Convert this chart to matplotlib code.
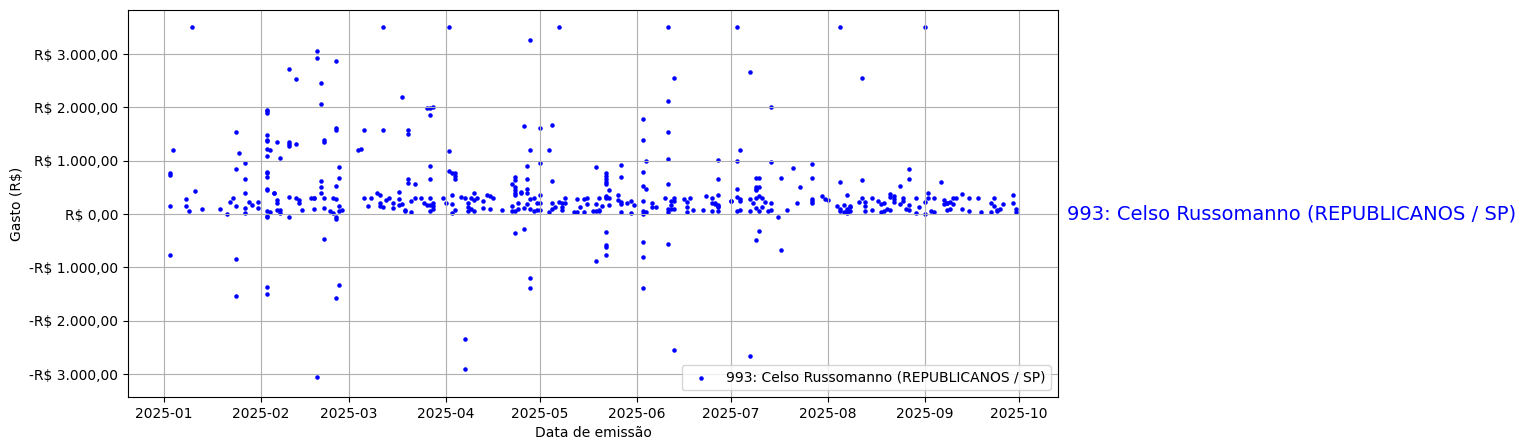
import pandas as pd
import matplotlib
matplotlib.use("Agg")
import matplotlib.pyplot as plt
from matplotlib.ticker import MultipleLocator, FuncFormatter


# ----------------------------
# Dados (dia do mes -> gastos em R$)
# ----------------------------
ANO = 2025
ROTULO = "993: Celso Russomanno (REPUBLICANOS / SP)"

janeiro = {
    3: [775, 730, 150, -775], 4: [1200], 8: [280, 150], 9: [56], 10: [3500],
    11: [430], 13: [94], 19: [94], 21: [0], 22: [225], 23: [300],
    24: [1540, 845, 150, -845, -1540], 25: [1145],
    27: [950, 656, 394, 112, 19], 28: [225], 29: [169], 31: [225, 112],
}
fevereiro = {
    3: [1950, 1930, 1894, 1481, 1387, 1369, 1219, 1087, 787, 769, 694, 469, 450, 56, -37, -56, -1369, -1500],
    4: [1200, 37], 5: [394, 394], 6: [1350, 262, 206, 75], 7: [1050, 75, 19],
    10: [2719, 1350, 1312, 1275, 312, -56], 12: [2531, 1312, 300], 13: [262, 206],
    14: [75], 17: [300], 18: [300, 300, 94], 19: [3056, 2925, -3056],
    20: [2456, 2062, 619, 506, 394], 21: [1387, 1350, 300, 112, -469], 23: [56],
    24: [300, 19], 25: [1612, 1575, 525, 2869, 280, -56, -94, -1581],
    26: [881, 675, 150, 56, -1331], 27: [75],
}
marco = {
    4: [1200], 5: [1219], 6: [1575, 300], 7: [150], 8: [300], 10: [394],
    11: [356, 206, 150], 12: [3500, 1575, 131], 13: [262], 14: [300], 15: [206, 112],
    17: [412, 281, 169], 18: [2194, 187], 19: [75, 56], 20: [1575, 1500, 656, 581],
    21: [244, 37], 22: [562, 300], 24: [300], 25: [206], 26: [1987, 169],
    27: [1987, 1856, 900, 656, 300, 169, 56], 28: [2006, 206, 150, 94], 31: [300],
}
abril = {
    1: [206], 2: [3500, 1181, 806], 3: [769, 356, 187, 19], 4: [769, 712, 656, 75],
    6: [319], 7: [300, -2344, -2906], 8: [206, 131, 56], 9: [300, 94], 10: [394, 262, 56],
    11: [300], 13: [244, 112], 14: [356], 15: [337, 94], 16: [300], 19: [75],
    22: [562, 150, 56], 23: [694, 637, 506, 450, 394, 356, 56, -356], 24: [206, 94],
    25: [412, 394], 26: [1650, 112, -281], 27: [900, 656, 469, 394, 187],
    28: [3262, 1200, 281, 94, -1200, -1387], 29: [300, 56], 30: [206, 75],
}
maio = {
    1: [1612, 956, 356, 206, 75], 4: [1200, 37], 5: [1669, 619, 206, 94], 6: [131],
    7: [3500, 225], 8: [206, 131, 75], 9: [300, 206], 12: [37], 13: [281, 37], 14: [131],
    15: [281, 37], 16: [300, 187], 18: [56], 19: [881, 187, 56, -881], 20: [300, 75, 56],
    21: [150], 22: [769, 712, 656, 600, 562, 337, 319, 300, -337, -581, -619, -769],
    23: [450, 300, 169], 26: [356, 262], 27: [919, 694, 225, 187, 37], 29: [206],
    30: [244, 19], 31: [169],
}
junho = {
    3: [1781, 1387, 787, 525, 244, 56, 0, -525, -806, -1387], 4: [994, 469, 37],
    6: [206, 131], 7: [131], 10: [300], 11: [3500, 2119, 1537, 1031, 562, 94, 37, -562],
    12: [244, 169, 94], 13: [2550, 300, 244, 94, -2550], 16: [281], 17: [225, 131, 37],
    18: [300], 19: [75], 22: [75], 23: [337], 25: [300, 206, 56], 26: [206, 187],
    27: [1012, 656, 356, 169, 150, 131, 56],
}
julho = {
    1: [244, 244], 3: [3500, 994, 469, 319, 56], 4: [1200, 281, 244, 75],
    7: [2662, 281, 56, -2662], 8: [206], 9: [675, 506, 469, 450, 300, 112, -487],
    10: [675, 506, 337, 56, -319], 11: [300, 131], 12: [225], 13: [56],
    14: [2006, 975, 206, 75], 16: [-56], 17: [675, -675], 19: [75], 21: [862],
    22: [206], 23: [506], 27: [937, 675, 281, 244, 206], 30: [337], 31: [281],
}
agosto = {
    1: [262], 4: [150], 5: [3500, 600, 94, 56], 6: [169, 37], 7: [356, 94, 56, 19],
    8: [150, 131, 56], 11: [225], 12: [2550, 637, 300], 13: [225, 150, 56], 15: [300, 75],
    17: [244], 18: [187, 37], 19: [206, 56], 20: [94], 21: [375, 319, 75],
    22: [337, 281, 225], 24: [525, 187], 25: [300, 244], 26: [94],
    27: [844, 656, 169, 75], 29: [300, 19], 30: [131],
}
setembro = {
    1: [3500, 225, 0], 2: [394, 300], 3: [56], 4: [300, 37], 6: [600], 7: [262, 187],
    8: [206, 206, 75], 9: [225, 94], 10: [300, 187], 11: [300], 13: [375, 94],
    15: [300, 56], 18: [300], 19: [37], 22: [206, 37], 23: [300, 150], 24: [75, 56],
    25: [94], 26: [187], 29: [356, 206], 30: [94, 37],
}

meses = [janeiro, fevereiro, marco, abril, maio, junho, julho, agosto, setembro]

rows = []
for m, dados in enumerate(meses, start=1):
    for dia, vals in dados.items():
        for v in vals:
            rows.append((pd.Timestamp(ANO, m, dia), v))
df = pd.DataFrame(rows, columns=["data", "gasto"])


def brl(v, pos):
    s = f"{abs(v):,.2f}".replace(",", "X").replace(".", ",").replace("X", ".")
    return ("-" if v < -0.5 else "") + "R$ " + s


# ----------------------------
# Plot
# ----------------------------
fig = plt.figure(figsize=(15.25, 4.48), dpi=100)
ax = fig.add_axes([128 / 1525, 51 / 448, 930 / 1525, 387 / 448])

ax.scatter(df["data"], df["gasto"], s=5, color="blue", label=ROTULO)
ax.set_ylim(-3431, 3825)
ax.yaxis.set_major_locator(MultipleLocator(1000))
ax.yaxis.set_major_formatter(FuncFormatter(brl))
ax.grid(True)
ax.set_xlabel("Data de emissão")
ax.set_ylabel("Gasto (R$)")
ax.legend(loc="lower right")

ax.text(1.01, 0, ROTULO, transform=ax.get_yaxis_transform(),
        color="blue", fontsize=14, va="center", ha="left")

fig.savefig("out.png", dpi=100)
plt.close(fig)
